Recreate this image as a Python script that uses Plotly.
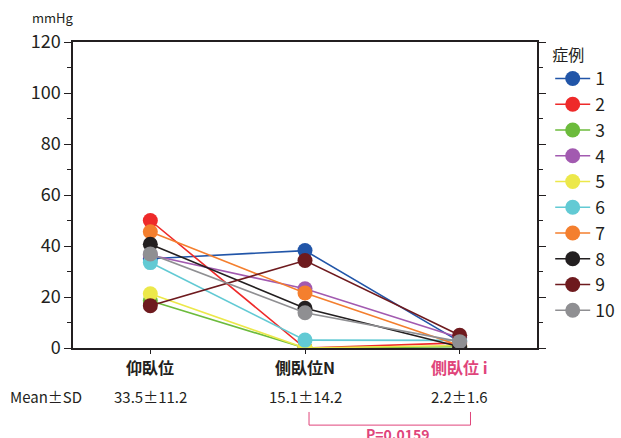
import plotly.graph_objects as go

positions = ["仰臥位", "側臥位N", "側臥位 i"]
cases = ["1", "2", "3", "4", "5", "6", "7", "8", "9", "10"]
colors = ["#2155a8", "#ee2a2a", "#6cbb3c", "#a25ab0", "#ece84a",
          "#62cad4", "#f47f2e", "#231f20", "#6e1a1e", "#8f8f92"]

case_1 = [35.0, 38.2, 2.5]
case_2 = [50.0, 0.0, 2.0]
case_3 = [18.5, 0.0, 0.5]
case_4 = [36.5, 23.2, 4.0]
case_5 = [21.3, 0.0, 1.0]
case_6 = [33.5, 3.1, 3.0]
case_7 = [45.6, 21.6, 1.0]
case_8 = [40.7, 15.6, 0.5]
case_9 = [16.6, 34.3, 5.0]
case_10 = [36.9, 13.8, 2.5]
values = [case_1, case_2, case_3, case_4, case_5, case_6, case_7, case_8, case_9, case_10]

mean_sd = ["33.5±11.2", "15.1±14.2", "2.2±1.6"]
p_label = "P=0.0159"

FONT = "Liberation Sans Narrow, Noto Sans CJK JP, sans-serif"
JP = "Noto Sans CJK JP, sans-serif"
PINK = "#e0457b"
INK = "#231f20"

fig = go.Figure()
for name, col, vals in zip(cases, colors, values):
    fig.add_trace(go.Scatter(
        x=[0, 1, 2], y=vals, name=name, mode="lines+markers",
        line=dict(color=col, width=1.6),
        marker=dict(color=col, size=15),
    ))

# category labels and summary statistics under the axis
for i, lab in enumerate(positions):
    fig.add_annotation(x=i, y=0, xref="x", yref="y", yshift=-19, showarrow=False,
                       text=f"<b>{lab}</b>", font=dict(family=JP, size=16,
                       color=PINK if i == 2 else INK))
    fig.add_annotation(x=i, y=0, xref="x", yref="y", yshift=-48, showarrow=False,
                       text=mean_sd[i], font=dict(family=JP, size=15, color=INK))

fig.add_annotation(x=0, y=0, xref="paper", yref="y", yshift=-48, xanchor="left",
                   xshift=-65, showarrow=False, text="Mean±SD",
                   font=dict(family=JP, size=15, color=INK))

fig.add_annotation(x=-0.5, y=120, xref="x", yref="y", xanchor="right", yanchor="bottom",
                   xshift=3, yshift=13, showarrow=False, text="mmHg",
                   font=dict(family=JP, size=13, color=INK))

# significance bracket between the two lateral positions
fig.add_shape(type="path", xref="x", yref="paper",
              path="M 1.026,-0.209 L 1.026,-0.252 L 2.07,-0.252 L 2.07,-0.209",
              line=dict(color=PINK, width=1))
fig.add_annotation(x=1.60, y=-0.252, xref="x", yref="paper", yanchor="top", yshift=3,
                   showarrow=False, text=f"<b>{p_label}</b>",
                   font=dict(family=JP, size=14, color=PINK))

fig.update_layout(
    width=621, height=438,
    margin=dict(l=73, r=84, t=42, b=90, autoexpand=False),
    paper_bgcolor="white", plot_bgcolor="white",
    showlegend=True,
    legend=dict(
        title=dict(text="症例", font=dict(family=JP, size=16, color=INK)),
        font=dict(family=FONT, size=17.5, color=INK),
        xref="container", x=0.886, xanchor="left", y=1.007, yanchor="top",
        itemwidth=35, tracegroupgap=0, maxheight=420,
    ),
    xaxis=dict(
        range=[-0.5, 2.5], tickvals=[0, 1, 2], ticktext=["", "", ""],
        showline=True, linecolor=INK, linewidth=1.5, mirror=True,
        ticks="outside", ticklen=4, tickcolor=INK, showgrid=False, zeroline=False,
    ),
    yaxis=dict(
        range=[0, 120], tickvals=[0, 20, 40, 60, 80, 100, 120],
        showline=True, linecolor=INK, linewidth=1.5, mirror="ticks",
        ticks="outside", ticklen=7, tickcolor=INK,
        minor=dict(tickvals=[10, 30, 50, 70, 90, 110], ticks="outside", ticklen=4,
                   tickcolor=INK),
        tickfont=dict(family=FONT, size=18, color=INK),
        showgrid=False, zeroline=False,
    ),
)

fig.write_html("out.html")
